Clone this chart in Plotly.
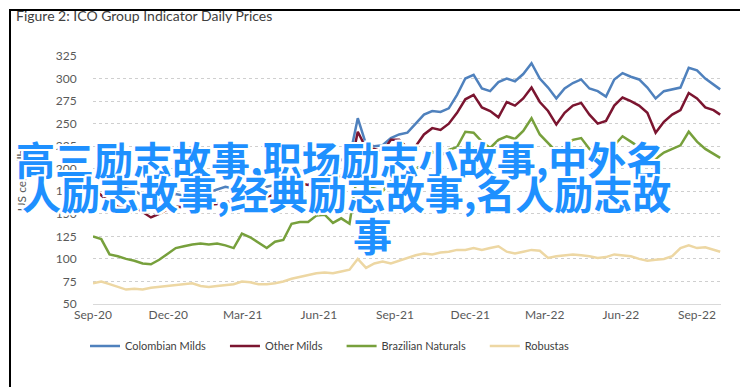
import pandas as pd
import plotly.graph_objects as go

# ---- data (US cents/lb), sampled every 10 days from 1 Sep 2020 ----
dates = list(pd.date_range("2020-09-01", "2022-09-21", freq="10D")) + [pd.Timestamp("2022-09-29")]

colombian_milds = [190, 196, 188, 183, 178, 176, 170, 168, 166, 170, 172, 170, 173, 176, 174, 177,
                   180, 178, 181, 177, 175, 180, 182, 186, 190, 198, 196, 203, 206, 202, 210, 212,
                   256, 227, 225, 226, 234, 238, 240, 250, 260, 264, 263, 267, 282, 300, 304, 289,
                   286, 296, 300, 297, 305, 317, 300, 290, 278, 289, 295, 299, 289, 286, 280, 299,
                   306, 302, 299, 290, 278, 286, 288, 290, 312, 309, 300, 293, 288]

other_milds = [178, 170, 163, 158, 156, 157, 152, 146, 150, 155, 158, 157, 160, 162, 160, 161,
               163, 164, 166, 165, 163, 168, 172, 176, 179, 184, 182, 188, 190, 186, 193, 196,
               241, 223, 222, 219, 232, 232, 223, 225, 238, 245, 243, 250, 262, 277, 282, 268,
               264, 257, 274, 270, 278, 290, 274, 264, 249, 262, 270, 273, 260, 250, 253, 270,
               279, 275, 270, 262, 240, 252, 260, 265, 284, 278, 268, 265, 260]

brazilian_naturals = [125, 122, 105, 103, 100, 98, 95, 94, 99, 106, 112, 114, 116, 117, 116, 117,
                      115, 112, 128, 124, 118, 112, 119, 121, 139, 141, 141, 148, 149, 140, 145, 139,
                      197, 180, 178, 175, 186, 190, 188, 200, 205, 219, 214, 221, 224, 241, 240, 230,
                      223, 232, 236, 233, 242, 256, 238, 228, 219, 225, 232, 234, 222, 214, 216, 226,
                      236, 230, 224, 220, 211, 218, 222, 226, 241, 230, 222, 216, 212]

robustas = [73, 75, 72, 69, 66, 67, 66, 68, 69, 70, 71, 72, 73, 70, 69, 70,
            71, 72, 75, 74, 72, 72, 73, 75, 78, 80, 82, 84, 85, 84, 86, 88,
            100, 90, 95, 97, 95, 98, 101, 104, 106, 105, 107, 108, 110, 110, 112, 110,
            112, 114, 108, 106, 108, 110, 109, 101, 103, 104, 105, 104, 103, 101, 102, 105,
            104, 103, 100, 98, 99, 100, 103, 112, 115, 112, 113, 110, 108]

series_names = ["Colombian Milds", "Other Milds", "Brazilian Naturals", "Robustas"]
series_values = [colombian_milds, other_milds, brazilian_naturals, robustas]
series_colors = ["#4F81BD", "#7B1530", "#77A03C", "#EDD7A3"]

overlay_lines = ["高三励志故事,职场励志小故事,中外名", "人励志故事,经典励志故事,名人励志故", "事"]

FONT = "Lato, 'Open Sans', sans-serif"
W, H = 748, 387
L, R, T, B = 85, 35, 47.5, 91   # plot area 85..713 x 47.5..296
PW, PH = W - L - R, H - T - B


def px(xp):
    return (xp - L) / PW


def py(yp):
    return (H - B - yp) / PH


PAD = "\u00a0" * 5
fig = go.Figure()
for name, vals, color in zip(series_names, series_values, series_colors):
    fig.add_trace(go.Scatter(x=dates, y=vals, name=name + PAD, mode="lines",
                             line=dict(color=color, width=2.5, shape="linear")))

fig.update_layout(
    width=W, height=H,
    margin=dict(l=L, r=R, t=T, b=B),
    paper_bgcolor="white", plot_bgcolor="white",
    font=dict(family=FONT, size=12, color="#595959"),
    title=dict(text="Figure 2: ICO Group Indicator Daily Prices", x=8 / W, xanchor="left",
               xref="container", y=1 - 8 / H, yanchor="middle", yref="container",
               font=dict(family=FONT, size=14, color="#404040")),
    showlegend=True,
    legend=dict(orientation="h", x=px(77), xanchor="left", y=py(338), yanchor="middle",
                font=dict(family=FONT, size=11, color="#404040"), itemwidth=30,
                bgcolor="rgba(0,0,0,0)"),
)

fig.update_xaxes(type="date", range=["2020-09-01", "2022-09-30"],
                 tick0="2020-09-01", dtick="M3", tickformat="%b-%y",
                 showgrid=False, showline=True, linecolor="#d9d9d9", linewidth=1,
                 ticks="", tickfont=dict(size=12, color="#595959"), zeroline=False)
fig.update_yaxes(range=[50, 325], tick0=50, dtick=25,
                 showgrid=True, gridcolor="#cfcfcf", griddash="dot", gridwidth=1,
                 showline=False, zeroline=False,
                 ticks="", ticksuffix="\u00a0" * 5,
                 tickfont=dict(size=12, color="#595959"))

# y-axis title
fig.add_annotation(text="US cents/lb", xref="paper", yref="paper", x=px(13), y=py(172),
                   textangle=-90, showarrow=False, xanchor="center", yanchor="middle",
                   font=dict(family=FONT, size=12, color="#595959"))

# outer frame
fig.add_shape(type="rect", xref="paper", yref="paper",
              x0=px(2), x1=px(742), y0=py(382), y1=py(1.5),
              line=dict(color="#000000", width=2), fillcolor="rgba(0,0,0,0)", layer="above")

# overlay watermark text
halo = ("2px 0 0 #fff, -2px 0 0 #fff, 0 2px 0 #fff, 0 -2px 0 #fff, "
        "2px 2px 0 #fff, -2px -2px 0 #fff, 2px -2px 0 #fff, -2px 2px 0 #fff")
positions = [(332, 150), (338, 184), (364, 226)]
for txt, (cx, cy) in zip(overlay_lines, positions):
    fig.add_annotation(text=txt, xref="paper", yref="paper", x=px(cx), y=py(cy),
                       showarrow=False, xanchor="center", yanchor="middle",
                       font=dict(family="Noto Sans CJK SC", size=39, color="#1E90FF",
                                 weight="bold", shadow=halo))

fig.write_html("out.html")
